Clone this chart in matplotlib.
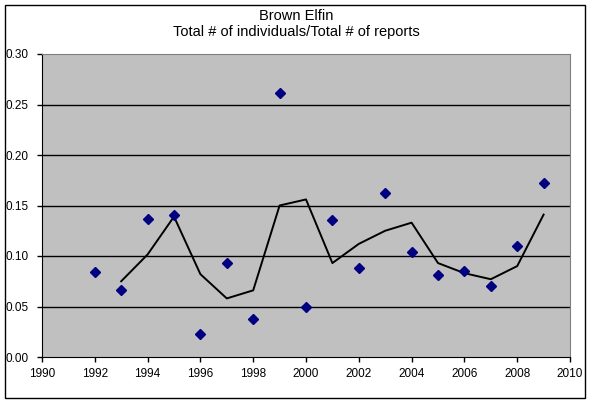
import matplotlib
matplotlib.use("Agg")
import matplotlib.pyplot as plt
from matplotlib.patches import Rectangle

plt.rcParams['font.family'] = ['Liberation Sans', 'DejaVu Sans']

years = [1992, 1993, 1994, 1995, 1996, 1997, 1998, 1999, 2000,
         2001, 2002, 2003, 2004, 2005, 2006, 2007, 2008, 2009]
ratio = [0.084, 0.066, 0.137, 0.141, 0.0225, 0.093, 0.038, 0.261, 0.050,
         0.136, 0.088, 0.162, 0.104, 0.081, 0.085, 0.070, 0.110, 0.172]

# 2-year moving average line
avg_years = years[1:]
avg_vals = [0.075, 0.1015, 0.139, 0.082, 0.058, 0.066, 0.150, 0.156,
            0.093, 0.112, 0.125, 0.133, 0.093, 0.083, 0.077, 0.090, 0.141]

xticks = list(range(1990, 2011, 2))
yticks = [0.0, 0.05, 0.10, 0.15, 0.20, 0.25, 0.30]

fig = plt.figure(figsize=(5.92, 4.04), dpi=100)
ax = fig.add_axes([42/592, 1 - 357/404, (570 - 42)/592, (357 - 54)/404])
ax.set_facecolor('#c0c0c0')

for y in yticks[1:-1]:
    ax.axhline(y, color='black', lw=1.0, zorder=1)

ax.plot(avg_years, avg_vals, color='black', lw=1.4, zorder=2)
ax.plot(years, ratio, linestyle='none', marker='D', markersize=5,
        color='#000080', zorder=3)

ax.set_xlim(1990, 2010)
ax.set_ylim(0, 0.30)
ax.set_xticks(xticks)
ax.set_yticks(yticks)
ax.set_yticklabels(['%.2f' % v for v in yticks])
ax.tick_params(direction='out', length=3.6, width=1, labelsize=8.5, colors='black')
ax.tick_params(axis='y', pad=6)
ax.tick_params(axis='x', pad=4)

for s in ['top', 'right']:
    ax.spines[s].set_color('#808080')
for s in ['left', 'bottom']:
    ax.spines[s].set_color('black')

fig.text(0.5, 1 - 16/404, 'Brown Elfin', ha='center', va='center', fontsize=10.5)
fig.text(0.5, 1 - 32/404, 'Total # of individuals/Total # of reports', ha='center',
         va='center', fontsize=10.5)

fig.patches.append(Rectangle((5/592, 1 - 398/404), 580/592, 393/404, transform=fig.transFigure,
                             fill=False, edgecolor='black', lw=1))

fig.savefig('out.png', dpi=100)
